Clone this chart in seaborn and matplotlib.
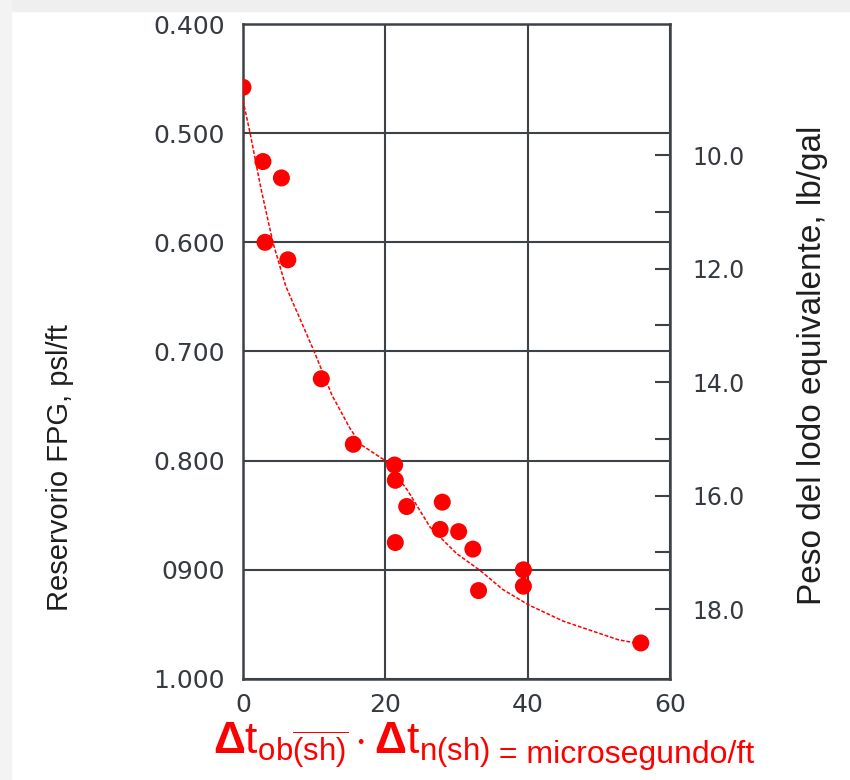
import numpy as np
import pandas as pd
import seaborn as sns
import matplotlib.pyplot as plt
from matplotlib.patches import Rectangle

# === Data ===
dt_diff = [0.0, 2.8, 5.4, 3.1, 6.3, 11.0, 15.5, 21.3, 21.4, 23.0, 21.4,
           28.0, 27.7, 30.3, 32.3, 33.1, 39.4, 39.4, 55.9]
fpg = [0.458, 0.526, 0.541, 0.600, 0.616, 0.725, 0.785, 0.804, 0.818, 0.842,
       0.875, 0.838, 0.863, 0.865, 0.881, 0.919, 0.900, 0.915, 0.967]

curve_x = [0.0, 1.0, 2.5, 4.2, 6.0, 8.0, 10.0, 12.5, 15.0, 16.5, 20.0, 23.1,
           26.3, 30.0, 33.4, 36.5, 40.1, 45.0, 52.7, 55.9]
curve_y = [0.47, 0.50, 0.55, 0.60, 0.64, 0.67, 0.70, 0.74, 0.77, 0.785, 0.80,
           0.827, 0.861, 0.885, 0.901, 0.918, 0.932, 0.947, 0.964, 0.968]

y_ticks = [0.4, 0.5, 0.6, 0.7, 0.8, 0.9, 1.0]
y_ticklabels = ["0.400", "0.500", "0.600", "0.700", "0.800", "0900", "1.000"]
x_ticks = [0, 20, 40, 60]
mw_major = [10, 12, 14, 16, 18]
mw_minor = [11, 13, 15, 17]
PSI_PER_PPG = 0.052

pts = pd.DataFrame({"dt": dt_diff, "fpg": fpg})
trend = pd.DataFrame({"dt": curve_x, "fpg": curve_y})

# === Style ===
sns.set_style("white")
plt.rcParams["font.family"] = ["DejaVu Sans"]
plt.rcParams["mathtext.fontset"] = "custom"
plt.rcParams["mathtext.rm"] = "Liberation Sans"
plt.rcParams["mathtext.bf"] = "Liberation Sans:bold"
plt.rcParams["mathtext.it"] = "Liberation Sans:italic"

grid_c = "#3d4247"
tick_c = "#353a40"

fig = plt.figure(figsize=(8.5, 7.8), dpi=100)
fig.patches.append(Rectangle((0, 1 - 11 / 780), 1, 11 / 780, transform=fig.transFigure,
                             color="#efefef", zorder=0))
fig.patches.append(Rectangle((0, 0), 11 / 850, 1, transform=fig.transFigure,
                             color="#f3f3f3", zorder=0))
ax = fig.add_axes([243 / 850, 1 - 679 / 780, 427 / 850, 655 / 780])

# === Plot ===
sns.lineplot(data=trend, x="dt", y="fpg", sort=False, ax=ax, color="red",
             linewidth=1.1, dashes=False, zorder=3)
ax.lines[-1].set_linestyle((0, (2.5, 1.2)))
sns.scatterplot(data=pts, x="dt", y="fpg", ax=ax, color="red", s=150,
                edgecolor="none", zorder=4)

ax.set_xlim(0, 60)
ax.set_ylim(1.0, 0.4)
ax.set_xticks(x_ticks)
ax.set_yticks(y_ticks)
ax.set_yticklabels(y_ticklabels)
ax.grid(True, color=grid_c, linewidth=1.5)
for s in ax.spines.values():
    s.set_color(grid_c)
    s.set_linewidth(1.8)
ax.tick_params(axis="both", length=0, labelsize=18, colors=tick_c)
ax.tick_params(axis="y", pad=13)
ax.tick_params(axis="x", pad=10)
ax.set_xlabel("")
ax.set_ylabel("")

# === Secondary axis: equivalent mud weight ===
sec = ax.secondary_yaxis("right", functions=(lambda p: p / PSI_PER_PPG,
                                             lambda w: w * PSI_PER_PPG))
sec.set_yticks(mw_major)
sec.set_yticklabels([f"{v:.1f}" for v in mw_major])
sec.set_yticks(mw_minor, minor=True)
sec.tick_params(axis="y", which="both", direction="in", length=11, width=1.5,
                color=grid_c, labelsize=17, labelcolor=tick_c, pad=16)
sec.spines["right"].set_visible(False)

# === Labels ===
fig.text(60 / 850, 1 - 468 / 780, "Reservorio FPG, psl/ft", rotation=90,
         ha="center", va="center", fontsize=21, color="#1e1e1e",
         family="Liberation Sans")
fig.text(812 / 850, 1 - 365 / 780, "Peso del lodo equivalente, lb/gal",
         rotation=90, ha="center", va="center", fontsize=24, color="#1e1e1e",
         family="Liberation Sans")

t1 = fig.text(213 / 850, 1 - 746 / 780,
              r"$\mathbf{\Delta}\mathrm{t}_{\mathrm{ob}\overline{\mathrm{(sh)}}}"
              r"\cdot\mathbf{\Delta}\mathrm{t}_{\mathrm{n(sh)}}$",
              ha="left", va="center", fontsize=32, color="red")
ax.annotate(" = microsegundo/ft", xy=(1.0, 0.32), xycoords=t1, ha="left",
            va="center", fontsize=23, color="red", family="Liberation Sans",
            annotation_clip=False)

plt.savefig("out.png", dpi=100)
